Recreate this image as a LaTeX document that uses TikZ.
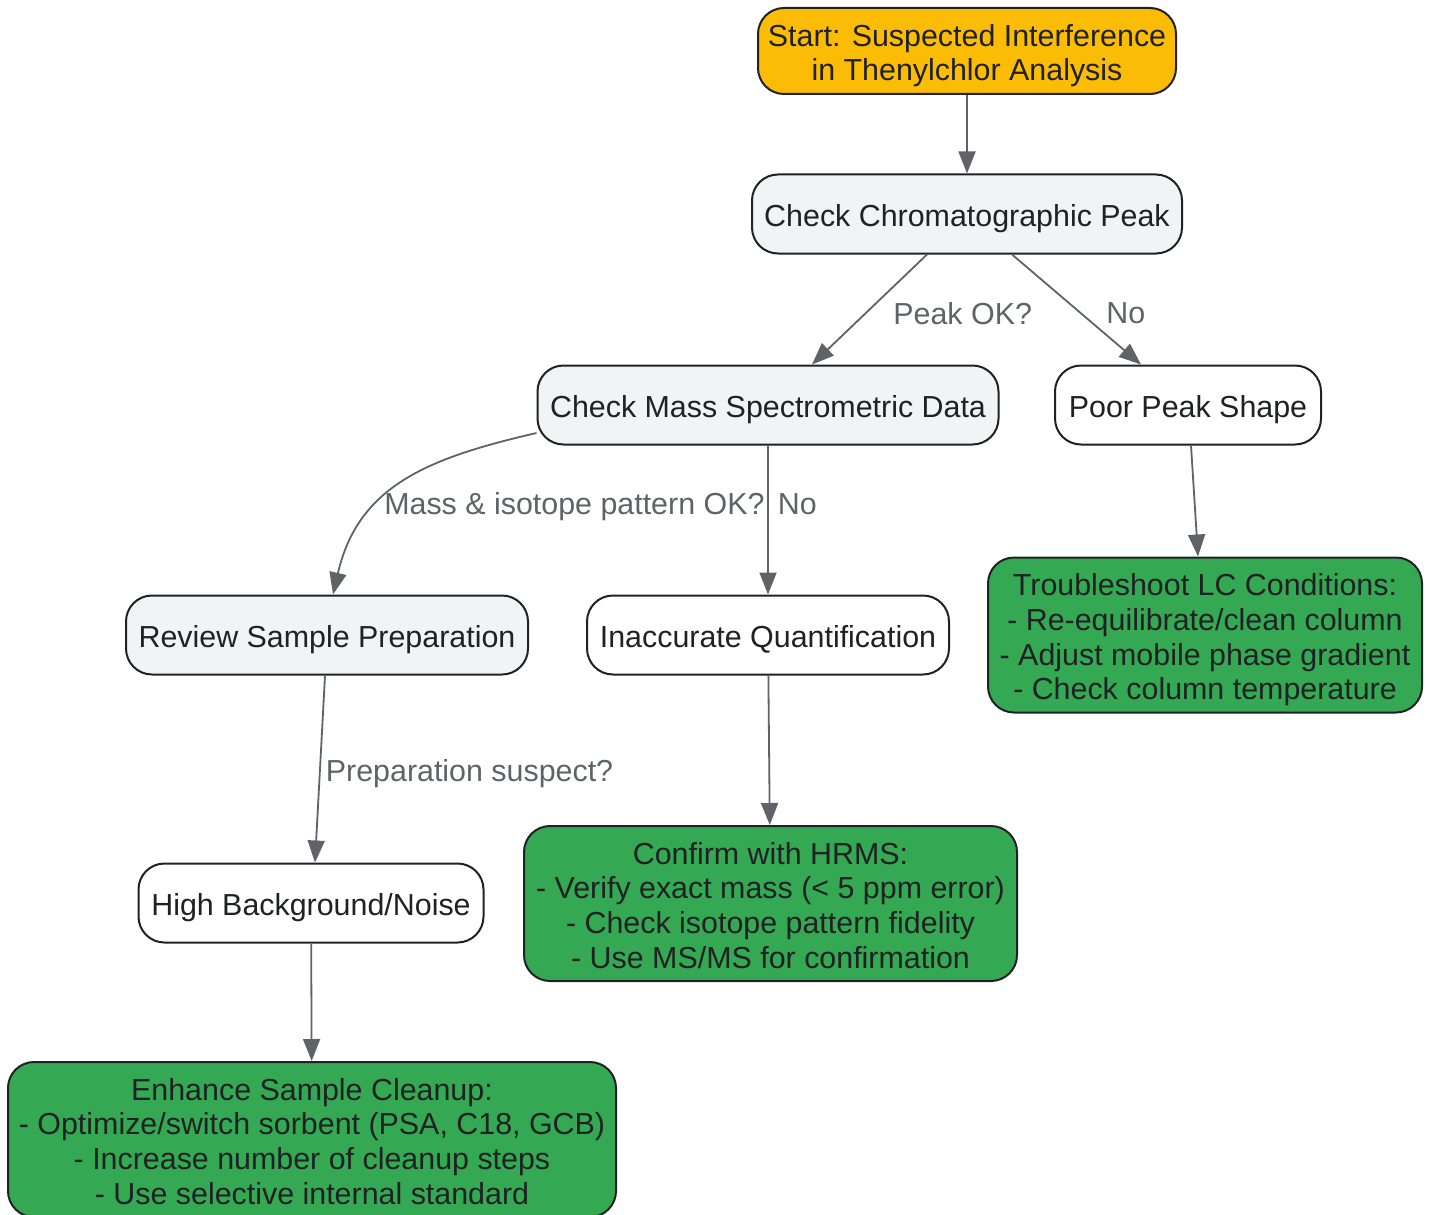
\documentclass[tikz,border=0pt]{standalone}
\usepackage{fontspec}
\setmainfont{Liberation Sans}
\usetikzlibrary{arrows.meta}
\definecolor{startorange}{HTML}{FBBC05}
\definecolor{checkgray}{HTML}{F1F3F4}
\definecolor{fixgreen}{HTML}{34A853}
\definecolor{inkdark}{HTML}{202124}
\definecolor{edgegray}{HTML}{5F6368}
\newcommand{\flowfont}{\fontsize{15.2}{17.3}\selectfont}
\newcommand{\toplift}{\rule{0pt}{15.9pt}}
\newcommand{\botdrop}{\rule[-3.2pt]{0pt}{0pt}}

\begin{document}
\begin{tikzpicture}[x=0.5pt, y=-0.5pt,
  box/.style={draw=inkdark, line width=1pt, rounded corners=13pt,
    text=inkdark, align=center, font=\flowfont, inner sep=0pt,
    minimum height=39.5pt},
  startbox/.style={box, fill=startorange, minimum height=43pt},
  checkbox/.style={box, fill=checkgray},
  issuebox/.style={box, fill=white},
  fixbox/.style={box, fill=fixgreen, minimum height=77.5pt},
  flow/.style={draw=edgegray, line width=0.9pt,
    -{Triangle[length=11pt, width=8.5pt]}},
  cond/.style={text=edgegray, font=\flowfont, inner sep=0pt}]
\useasboundingbox (0,0) rectangle (1433,1214);

\node[startbox, minimum width=209pt] (start) at (967,51)
     {\toplift Start: Suspected Interference\\in Thenylchlor Analysis\botdrop};
\node[checkbox, minimum width=215pt] (chrom) at (967,214)
     {\toplift Check Chromatographic Peak\botdrop};
\node[checkbox, minimum width=230.5pt] (mass) at (768,405)
     {\toplift Check Mass Spectrometric Data\botdrop};
\node[issuebox, minimum width=133pt] (poor) at (1188,405)
     {\toplift Poor Peak Shape\botdrop};
\node[checkbox, minimum width=201pt] (review) at (327,635)
     {\toplift Review Sample Preparation\botdrop};
\node[issuebox, minimum width=181pt] (inacc) at (768,635)
     {\toplift Inaccurate Quantification\botdrop};
\node[fixbox, minimum width=217pt] (lc) at (1205,635)
     {\toplift Troubleshoot LC Conditions:\\- Re-equilibrate/clean column\\- Adjust mobile phase gradient\\- Check column temperature\botdrop};
\node[issuebox, minimum width=172.5pt] (high) at (311,903)
     {\toplift High Background/Noise\botdrop};
\node[fixbox, minimum width=246.5pt] (hrms) at (770.5,903.5)
     {\toplift Confirm with HRMS:\\- Verify exact mass (< 5 ppm error)\\- Check isotope pattern fidelity\\- Use MS/MS for confirmation\botdrop};
\node[fixbox, minimum width=304pt] (enhance) at (312,1139.5)
     {\toplift Enhance Sample Cleanup:\\- Optimize/switch sorbent (PSA, C18, GCB)\\- Increase number of cleanup steps\\- Use selective internal standard\botdrop};

\path (start) edge[flow] (chrom);
\path ([xshift=-20pt]chrom.south) edge[flow] node[cond, anchor=west, xshift=11.5pt, yshift=-2pt]
     {Peak OK?} ([xshift=22pt]mass.north);
\path ([xshift=22.5pt]chrom.south) edge[flow] node[cond, anchor=west, xshift=14.5pt, yshift=-2pt]
     {No} ([xshift=-23.5pt]poor.north);
\path ([yshift=-14pt]mass.west) edge[flow, out=193, in=77, looseness=1.1]
     node[cond, pos=0.5, anchor=west, xshift=-10pt, yshift=-12pt]
     {Mass \& isotope pattern OK?} ([xshift=3pt]review.north);
\path (mass) edge[flow] node[cond, anchor=west, xshift=4.5pt, yshift=8pt]
     {No} (inacc);
\path ([xshift=1.5pt]poor.south) edge[flow] ([xshift=-3.5pt]lc.north);
\path ([xshift=-1pt]review.south) edge[flow] node[cond, anchor=west, xshift=2.5pt, yshift=-2.5pt]
     {Preparation suspect?} ([xshift=2pt]high.north);
\path (inacc) edge[flow] (hrms);
\path (high) edge[flow] (enhance);
\end{tikzpicture}
\end{document}
